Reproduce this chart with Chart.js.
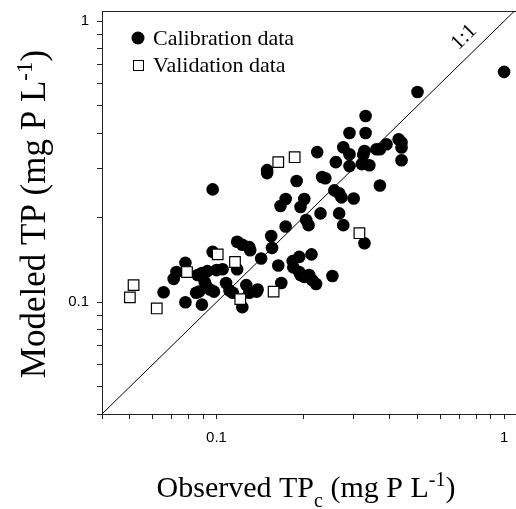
<!DOCTYPE html>
<html lang="en">
<head>
  <meta charset="UTF-8">
  <title>Observed vs Modeled TP</title>
  <script src="https://cdn.jsdelivr.net/npm/chart.js"></script>
  <style>
    html, body { margin: 0; padding: 0; background: #fff; }
    #wrap { width: 516px; height: 509px; }
  </style>
</head>
<body>
  <div id="wrap"><canvas id="graph" width="516" height="509"></canvas></div>

  <script>
    // calibration points (observed TPc, modeled TP), mg P/L
    const calibX = [1.0, 0.50, 0.33, 0.29, 0.33, 0.43, 0.44, 0.39, 0.44, 0.44,
      0.276, 0.29, 0.327, 0.324, 0.36, 0.37, 0.224, 0.26, 0.29, 0.32,
      0.34, 0.15, 0.15, 0.19, 0.233, 0.239, 0.097, 0.37, 0.257, 0.267,
      0.272, 0.30, 0.174, 0.167, 0.202, 0.196, 0.23, 0.267, 0.205, 0.209,
      0.174, 0.276, 0.327, 0.155, 0.118, 0.123, 0.13, 0.131, 0.156, 0.097,
      0.143, 0.078, 0.164, 0.184, 0.194, 0.214, 0.185, 0.194, 0.196, 0.202,
      0.21, 0.215, 0.222, 0.253, 0.168, 0.0726, 0.071, 0.0655, 0.078, 0.089,
      0.086, 0.089, 0.093, 0.10, 0.105, 0.091, 0.092, 0.085, 0.087, 0.098,
      0.108, 0.111, 0.114, 0.118, 0.127, 0.130, 0.138, 0.139, 0.123, 0.095];
    const calibY = [0.66, 0.56, 0.46, 0.40, 0.40, 0.38, 0.37, 0.365, 0.355, 0.32,
      0.356, 0.336, 0.345, 0.334, 0.35, 0.35, 0.342, 0.315, 0.305, 0.31,
      0.307, 0.295, 0.288, 0.27, 0.279, 0.276, 0.252, 0.26, 0.25, 0.244,
      0.236, 0.234, 0.233, 0.22, 0.233, 0.218, 0.207, 0.207, 0.196, 0.188,
      0.186, 0.188, 0.162, 0.172, 0.164, 0.16, 0.157, 0.153, 0.156, 0.151,
      0.143, 0.138, 0.135, 0.14, 0.145, 0.148, 0.133, 0.128, 0.125, 0.123,
      0.125, 0.12, 0.116, 0.124, 0.117, 0.128, 0.121, 0.1085, 0.100, 0.098,
      0.125, 0.127, 0.129, 0.13, 0.131, 0.118, 0.115, 0.108, 0.109, 0.109,
      0.117, 0.11, 0.108, 0.131, 0.115, 0.108, 0.109, 0.111, 0.096, 0.111];

    // validation points
    const validX = [0.050, 0.0515, 0.062, 0.079, 0.101, 0.116, 0.121, 0.158, 0.164, 0.187, 0.314];
    const validY = [0.104, 0.115, 0.095, 0.128, 0.148, 0.139, 0.1025, 0.109, 0.315, 0.328, 0.176];

    // 1:1 line ends
    const oneToOne = [0.04, 1.1];

    // axis ranges and ticks
    const xMin = 0.04, xMax = 1.1;
    const yMin = 0.04, yMax = 1.087;
    const tickValues = [0.04, 0.05, 0.06, 0.07, 0.08, 0.09, 0.1, 0.2, 0.3, 0.4, 0.5, 0.6, 0.7, 0.8, 0.9, 1];
    const tickLabels = { '0.1': '0.1', '1': '1' };

    const serif = '"Liberation Serif", "Times New Roman", serif';
    const sans = '"Liberation Sans", Arial, sans-serif';

    function toPoints(xs, ys) {
      return xs.map((x, i) => ({ x: x, y: ys[i] }));
    }

    // text with raised / lowered pieces
    function drawPieces(ctx, pieces, cx, baseY) {
      let total = 0;
      pieces.forEach(p => {
        ctx.font = p.size + 'px ' + serif;
        p.w = ctx.measureText(p.text).width;
        total += p.w;
      });
      let x = cx - total / 2;
      pieces.forEach(p => {
        ctx.font = p.size + 'px ' + serif;
        ctx.fillText(p.text, x, baseY + p.dy);
        x += p.w;
      });
    }

    const extras = {
      id: 'extras',
      beforeDatasetsDraw(chart) {
        const { ctx, chartArea: a } = chart;
        ctx.save();
        ctx.strokeStyle = '#222';
        ctx.lineWidth = 1;
        ctx.strokeRect(a.left + 0.5, a.top + 0.5, a.right - a.left, a.bottom - a.top);
        ctx.restore();
      },
      afterDraw(chart) {
        const { ctx } = chart;
        ctx.save();
        ctx.fillStyle = '#000';
        ctx.textAlign = 'left';
        ctx.textBaseline = 'alphabetic';

        // x title
        drawPieces(ctx, [
          { text: 'Observed TP', size: 30, dy: 0 },
          { text: 'c', size: 20, dy: 10 },
          { text: ' (mg P L', size: 30, dy: 0 },
          { text: '-1', size: 20, dy: -11 },
          { text: ')', size: 30, dy: 0 }
        ], 306, 497);

        // y title
        ctx.save();
        ctx.translate(45, 214);
        ctx.rotate(-Math.PI / 2);
        drawPieces(ctx, [
          { text: 'Modeled TP (mg P L', size: 35, dy: 0 },
          { text: '-1', size: 23, dy: -13 },
          { text: ')', size: 35, dy: 0 }
        ], 0, 0);
        ctx.restore();

        // 1:1 label
        ctx.save();
        ctx.translate(468, 41);
        ctx.rotate(-Math.PI / 4);
        ctx.font = '21px ' + serif;
        ctx.textAlign = 'center';
        ctx.fillText('1:1', 0, 0);
        ctx.restore();

        // legend
        ctx.beginPath();
        ctx.arc(138, 38, 6.5, 0, Math.PI * 2);
        ctx.fill();
        ctx.strokeStyle = '#000';
        ctx.lineWidth = 1;
        ctx.fillStyle = '#fff';
        ctx.fillRect(133, 60, 10, 10);
        ctx.strokeRect(133.5, 60.5, 10, 10);
        ctx.fillStyle = '#000';
        ctx.font = '22px ' + serif;
        ctx.fillText('Calibration data', 153, 45);
        ctx.fillText('Validation data', 153, 72);
        ctx.restore();
      }
    };

    function logAxis(pos, min, max) {
      return {
        type: 'logarithmic',
        position: pos,
        min: min,
        max: max,
        afterBuildTicks: scale => {
          scale.ticks = tickValues.map(v => ({ value: v }));
        },
        afterFit: scale => {
          if (pos === 'left') scale.width = 102;
          else scale.height = 95;
          scale.paddingLeft = 0;
          scale.paddingRight = 0;
          scale.paddingTop = 0;
          scale.paddingBottom = 0;
        },
        grid: {
          drawOnChartArea: false,
          drawTicks: true,
          tickLength: 5,
          tickColor: '#222'
        },
        border: { display: true, color: '#222', width: 1 },
        ticks: {
          autoSkip: false,
          maxRotation: 0,
          padding: pos === 'left' ? 8 : 10,
          color: '#000',
          font: { family: sans, size: 15 },
          callback: value => {
            const key = String(Math.round(value * 1000) / 1000);
            return tickLabels[key] || '';
          }
        },
        title: { display: false }
      };
    }

    const ctx = document.getElementById('graph').getContext('2d');
    new Chart(ctx, {
      type: 'scatter',
      data: {
        datasets: [
          {
            label: 'Validation data',
            data: toPoints(validX, validY),
            pointStyle: 'rect',
            pointRadius: 7.5,
            backgroundColor: '#fff',
            borderColor: '#000',
            borderWidth: 1.2
          },
          {
            label: 'Calibration data',
            data: toPoints(calibX, calibY),
            pointStyle: 'circle',
            pointRadius: 6.3,
            backgroundColor: '#000',
            borderColor: '#000',
            borderWidth: 0
          },
          {
            type: 'line',
            label: '1:1',
            data: toPoints(oneToOne, oneToOne),
            borderColor: '#000',
            borderWidth: 1,
            pointRadius: 0,
            fill: false
          }
        ]
      },
      options: {
        responsive: false,
        animation: false,
        layout: { autoPadding: false, padding: { top: 11, right: 0, left: 0, bottom: 0 } },
        scales: {
          x: logAxis('bottom', xMin, xMax),
          y: logAxis('left', yMin, yMax)
        },
        plugins: {
          legend: { display: false },
          tooltip: { enabled: false }
        }
      },
      plugins: [extras]
    });
  </script>
</body>
</html>
